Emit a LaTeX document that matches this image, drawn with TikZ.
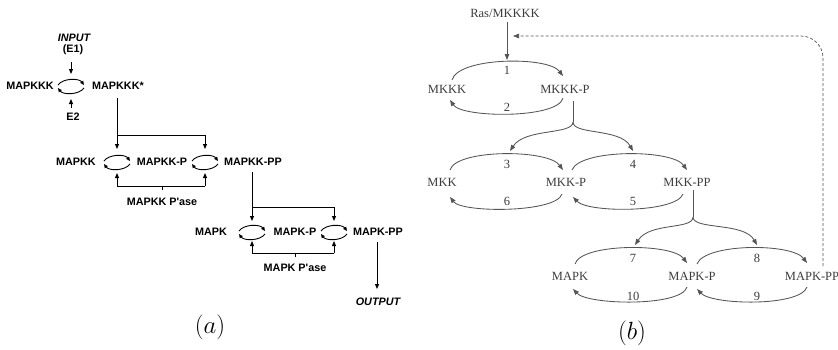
\documentclass[tikz,border=0pt]{standalone}
\usepackage{fontspec}
\newfontfamily\sanA{Liberation Sans}
\newfontfamily\serB{Liberation Serif}
\usetikzlibrary{arrows.meta,calc}
\definecolor{bcol}{HTML}{3C3C3C}
\definecolor{blin}{HTML}{555555}
\begin{document}
\begin{tikzpicture}[x=1pt,y=-1pt,
  atxt/.style={font=\sanA\bfseries\fontsize{10.8}{12}\selectfont,inner sep=0pt},
  aitx/.style={font=\sanA\bfseries\itshape\fontsize{10.8}{12}\selectfont,inner sep=0pt},
  btxt/.style={font=\serB\fontsize{12.5}{14}\selectfont,text=bcol,inner sep=0pt},
  aarr/.style={draw=black,line width=1pt,-{Triangle[length=5pt,width=4pt]}},
  aln/.style={draw=black,line width=1pt},
  barr/.style={draw=blin,line width=0.85pt,-{Triangle[length=6pt,width=4.5pt]}},
  bln/.style={draw=blin,line width=0.85pt},
  bdash/.style={draw=blin,line width=0.7pt,dash pattern=on 3pt off 2pt,-{Triangle[length=6pt,width=4.5pt]}},
  cyc/.pic={
    \draw[line width=0.9pt,-{Triangle[length=4pt,width=3.5pt]}] (-13,-1) .. controls (-8,-8) and (8,-8) .. (13,-1);
    \draw[line width=0.9pt,-{Triangle[length=4pt,width=3.5pt]}] (13,2) .. controls (8,9) and (-8,9) .. (-13,2);
  },
  lab/.style={font=\fontsize{24}{28}\selectfont,inner sep=0pt}
]
\useasboundingbox (0,0) rectangle (838,349);

% ---------- panel (a) ----------
\node[aitx] (input) at (74,38) {INPUT};
\node[atxt] (e1) at (73,50) {(E1)};
\node[atxt] (mapkkk) at (30,86) {MAPKKK};
\coordinate (cy1) at (71,86);
\pic at (cy1) {cyc};
\node[atxt] (mapkkks) at (118,86) {MAPKKK*};
\node[atxt] (e2) at (73,117) {E2};
\draw[aarr] ($(e1)+(-2,12)$) -- ($(cy1)+(0,-12)$);
\draw[aarr] ($(e2)+(-2,-9)$) -- ($(cy1)+(0,13)$);

\coordinate (cy2) at (117,162);
\coordinate (cy3) at (205,162);
\pic at (cy2) {cyc};
\pic at (cy3) {cyc};
\node[atxt] (mapkk) at (76,162) {MAPKK};
\node[atxt] (mapkkp) at (162,162) {MAPKK-P};
\node[atxt] (mapkkpp) at (253,162) {MAPKK-PP};
\node[atxt] (pase1) at (162,202) {MAPKK P'ase};
\draw[aarr] ($(mapkkks)+(-1,12)$) -- ($(cy2)+(0,-13)$);
\draw[aarr] ($(cy2)+(0,-27)$) -| ($(cy3)+(0,-13)$);
\draw[aln] ($(cy2)+(0,24)$) -- ($(cy3)+(0,24)$);
\draw[aarr] ($(cy2)+(0,24)$) -- ($(cy2)+(0,11)$);
\draw[aarr] ($(cy3)+(0,24)$) -- ($(cy3)+(0,11)$);
\draw[aln] ($(pase1)+(0,-16)$) -- ($(pase1)+(0,-12)$);

\coordinate (cy4) at (252,232);
\coordinate (cy5) at (334,232);
\pic at (cy4) {cyc};
\pic at (cy5) {cyc};
\node[atxt] (mapk) at (211,232) {MAPK};
\node[atxt] (mapkp) at (295,232) {MAPK-P};
\node[atxt] (mapkpp) at (378,232) {MAPK-PP};
\node[atxt] (pase2) at (295,268) {MAPK P'ase};
\node[aitx] (output) at (378,302) {OUTPUT};
\draw[aarr] ($(mapkkpp)+(-1,10)$) -- ($(cy4)+(0,-11)$);
\draw[aarr] ($(cy4)+(0,-25)$) -| ($(cy5)+(0,-11)$);
\draw[aln] ($(cy4)+(0,21)$) -- ($(cy5)+(0,21)$);
\draw[aarr] ($(cy4)+(0,21)$) -- ($(cy4)+(0,9)$);
\draw[aarr] ($(cy5)+(0,21)$) -- ($(cy5)+(0,9)$);
\draw[aln] ($(pase2)+(0,-15)$) -- ($(pase2)+(0,-11)$);
\draw[aarr] ($(mapkpp)+(-1,10)$) -- ($(output)+(-1,-13)$);
\node[lab] (la) at (210,327) {$(a)$};

% ---------- panel (b) ----------
\node[btxt] (ras) at (505,13) {Ras/MKKKK};
\node[btxt] (mkkk) at (447,89) {MKKK};
\node[btxt] (mkkkp) at (565,89) {MKKK-P};
\node[btxt] (mkk) at (442,182) {MKK};
\node[btxt] (mkkp) at (566,182) {MKK-P};
\node[btxt] (mkkpp) at (687,182) {MKK-PP};
\node[btxt] (mapkb) at (570,276) {MAPK};
\node[btxt] (mapkpb) at (692,276) {MAPK-P};
\node[btxt] (mapkppb) at (812,276) {MAPK-PP};
\node[btxt] (n1) at (507,70) {1};
\node[btxt] (n2) at (507,107) {2};
\node[btxt] (n3) at (507,164) {3};
\node[btxt] (n4) at (633,164) {4};
\node[btxt] (n6) at (507,201) {6};
\node[btxt] (n5) at (633,201) {5};
\node[btxt] (n7) at (633,258) {7};
\node[btxt] (n8) at (757,258) {8};
\node[btxt] (n10) at (633,296) {10};
\node[btxt] (n9) at (757,296) {9};

\draw[barr] ($(ras)+(2,9)$) -- ($(n1)+(0,-10)$);
\draw[bdash,rounded corners=22pt] ($(mapkppb)+(11,-10)$) |- ($(ras)+(8,23)$);

\draw[barr] ($(mkkk)+(5,-9)$) .. controls +(6,-23) and +(-15,-20) .. ($(mkkkp)+(-2,-13)$);
\draw[barr] ($(mkkkp)+(-2,9)$) .. controls +(-5,21) and +(12,18) .. ($(mkkk)+(3,11)$);
\coordinate (br1) at ($(mkkkp)+(8,33)$);
\draw[bln] ($(mkkkp)+(8,12)$) -- (br1);
\draw[barr] (br1) .. controls +(0,13) and +(15,-23) .. ($(n3)+(3,-13)$);
\draw[barr] (br1) .. controls +(0,13) and +(-13,-23) .. ($(n4)+(0,-13)$);

\draw[barr] ($(mkk)+(8,-12)$) .. controls +(6,-21) and +(-15,-21) .. ($(mkkp)+(-3,-12)$);
\draw[barr] ($(mkkp)+(6,-12)$) .. controls +(8,-21) and +(-15,-21) .. ($(mkkpp)+(0,-12)$);
\draw[barr] ($(mkkp)+(-4,12)$) .. controls +(-6,19) and +(12,16) .. ($(mkk)+(8,15)$);
\draw[barr] ($(mkkpp)+(-4,12)$) .. controls +(-7,19) and +(15,16) .. ($(mkkp)+(7,15)$);
\coordinate (br2) at ($(mkkpp)+(6,35)$);
\draw[bln] ($(mkkpp)+(6,8)$) -- (br2);
\draw[barr] (br2) .. controls +(0,13) and +(15,-23) .. ($(n7)+(2,-13)$);
\draw[barr] (br2) .. controls +(0,13) and +(-13,-23) .. ($(n8)+(0,-13)$);

\draw[barr] ($(mapkb)+(5,-12)$) .. controls +(6,-21) and +(-15,-20) .. ($(mapkpb)+(-5,-13)$);
\draw[barr] ($(mapkpb)+(5,-12)$) .. controls +(8,-21) and +(-15,-20) .. ($(mapkppb)+(-5,-13)$);
\draw[barr] ($(mapkpb)+(-5,11)$) .. controls +(-6,20) and +(15,16) .. ($(mapkb)+(3,13)$);
\draw[barr] ($(mapkppb)+(-5,11)$) .. controls +(-7,20) and +(15,16) .. ($(mapkpb)+(5,13)$);

\node[lab] (lb) at (632,333) {$(b)$};
\end{tikzpicture}
\end{document}
